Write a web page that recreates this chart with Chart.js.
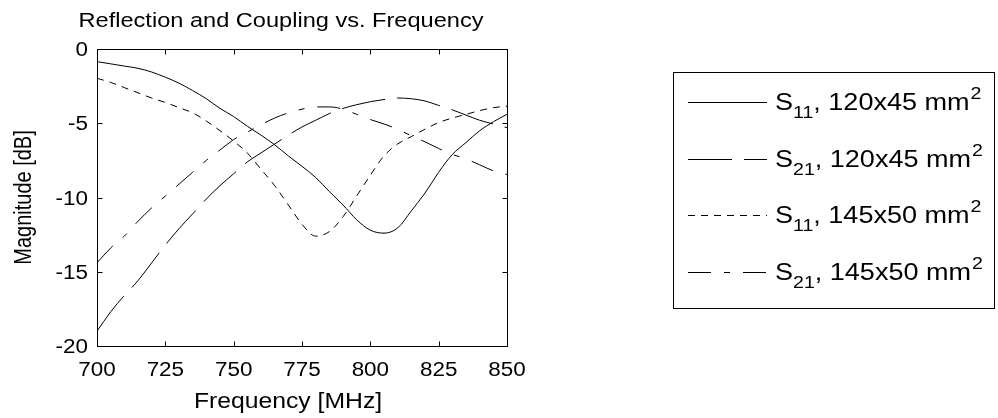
<!DOCTYPE html>
<html>
<head>
<meta charset="utf-8">
<script src="https://cdn.jsdelivr.net/npm/chart.js@4.4.1/dist/chart.umd.min.js"></script>
<style>
  html, body { margin: 0; padding: 0; background: #fff; }
  #wrap { width: 998px; height: 418px; }
</style>
</head>
<body>
<div id="wrap"><canvas id="sparamChart" width="998" height="418"></canvas></div>
<script>
// frequency grid [MHz]
var freqs = [700, 705, 710, 715, 720, 725, 730, 735, 740, 745, 750, 755, 760, 765, 770, 775,
             780, 785, 790, 795, 800, 805, 810, 815, 820, 825, 830, 835, 840, 845, 850]

// magnitudes [dB]
var s11Small = [-0.85, -1.0, -1.15, -1.3, -1.55, -1.9, -2.3, -2.8, -3.35, -4.0, -4.55, -5.2, -5.8, -6.45, -7.2, -7.9,
                -8.65, -9.6, -10.5, -11.5, -12.2, -12.4, -12.05, -10.9, -9.7, -8.3, -7.1, -6.3, -5.5, -4.9, -4.4]
var s21Small = [-19.0, -17.7, -16.6, -15.6, -14.4, -13.2, -12.1, -11.1, -10.1, -9.2, -8.4, -7.6, -7.0, -6.4, -5.8, -5.25,
                -4.8, -4.35, -4.0, -3.75, -3.55, -3.4, -3.3, -3.35, -3.5, -3.8, -4.1, -4.45, -4.8, -5.05, -5.3]
var s11Large = [-1.97, -2.25, -2.6, -2.95, -3.3, -3.6, -3.95, -4.3, -4.85, -5.5, -6.2, -7.0, -8.1, -9.2, -10.5, -11.8,
                -12.6, -12.3, -11.3, -9.9, -8.5, -7.2, -6.4, -5.9, -5.4, -4.95, -4.65, -4.4, -4.15, -3.95, -3.85]
var s21Large = [-14.4, -13.4, -12.6, -11.6, -10.7, -9.9, -9.1, -8.3, -7.5, -6.8, -6.1, -5.6, -5.1, -4.65, -4.3, -4.05,
                -3.9, -3.9, -4.05, -4.4, -4.75, -5.05, -5.4, -5.85, -6.25, -6.7, -7.1, -7.4, -7.8, -8.2, -8.45]

var seriesSub = ['11', '21', '11', '21']
var seriesSize = ['120x45', '120x45', '145x50', '145x50']
var seriesDash = [[], [44, 12], [7, 6], [23, 13, 6, 13]]
var seriesValues = [s11Small, s21Small, s11Large, s21Large]

var fontName = '"Liberation Sans", Arial, Helvetica, sans-serif'
var widen = 1.15 // the figure's text runs wide

function toPoints(values) {
  var pts = []
  for (var i = 0; i < freqs.length; i++) {
    pts.push({ x: freqs[i], y: values[i] })
  }
  return pts
}

var datasets = []
for (var i = 0; i < seriesValues.length; i++) {
  datasets.push({
    label: 'S' + seriesSub[i] + ', ' + seriesSize[i] + ' mm2',
    data: toPoints(seriesValues[i]),
    borderColor: '#000',
    borderWidth: 1,
    borderDash: seriesDash[i],
    pointRadius: 0,
    fill: false,
    cubicInterpolationMode: 'monotone'
  })
}

// draws text stretched horizontally, returns the advance
function wideText(ctx, text, x, y, align) {
  ctx.save()
  ctx.translate(x, y)
  ctx.scale(widen, 1)
  ctx.textAlign = align || 'left'
  ctx.fillText(text, 0, 0)
  ctx.restore()
  return ctx.measureText(text).width * widen
}

// box, inward ticks, labels, titles and the boxed legend
var matlabDecor = {
  id: 'matlabDecor',
  afterDraw: function(chart) {
    var ctx = chart.ctx
    var area = chart.chartArea
    var xs = chart.scales.x
    var ys = chart.scales.y
    ctx.save()
    ctx.strokeStyle = '#000'
    ctx.fillStyle = '#000'
    ctx.lineWidth = 1
    ctx.setLineDash([])
    ctx.textBaseline = 'alphabetic'

    var l = Math.round(area.left) + 0.5
    var r = Math.round(area.right) + 0.5
    var t = Math.round(area.top) + 0.5
    var b = Math.round(area.bottom) + 0.5
    ctx.strokeRect(l, t, r - l, b - t)

    var tick = 5
    ctx.beginPath()
    xs.ticks.forEach(function(tk) {
      var px = Math.round(xs.getPixelForValue(tk.value)) + 0.5
      ctx.moveTo(px, b); ctx.lineTo(px, b - tick)
      ctx.moveTo(px, t); ctx.lineTo(px, t + tick)
    })
    ys.ticks.forEach(function(tk) {
      var py = Math.round(ys.getPixelForValue(tk.value)) + 0.5
      ctx.moveTo(l, py); ctx.lineTo(l + tick, py)
      ctx.moveTo(r, py); ctx.lineTo(r - tick, py)
    })
    ctx.stroke()

    // tick labels
    ctx.font = '19.5px ' + fontName
    xs.ticks.forEach(function(tk) {
      wideText(ctx, String(tk.value), xs.getPixelForValue(tk.value), 376, 'center')
    })
    ys.ticks.forEach(function(tk) {
      wideText(ctx, String(tk.value), 88, ys.getPixelForValue(tk.value) + 7, 'right')
    })

    // titles
    ctx.font = '20.5px ' + fontName
    wideText(ctx, 'Reflection and Coupling vs. Frequency', 281, 27, 'center')
    ctx.font = '21.5px ' + fontName
    wideText(ctx, 'Frequency [MHz]', 288, 408, 'center')
    // rotated label: the stretch goes across the glyphs, not along the line
    ctx.save()
    ctx.font = '20px ' + fontName
    ctx.translate(31, (area.top + area.bottom) / 2)
    ctx.rotate(-Math.PI / 2)
    ctx.scale(1, widen)
    ctx.textAlign = 'center'
    ctx.fillText('Magnitude [dB]', 0, 0)
    ctx.restore()

    // legend
    ctx.strokeRect(673.5, 72.5, 321, 236)
    for (var i = 0; i < seriesSub.length; i++) {
      var base = 110 + i * 56.7
      var ly = Math.round(base - 8) + 0.5
      ctx.setLineDash(seriesDash[i])
      ctx.beginPath()
      ctx.moveTo(688, ly)
      ctx.lineTo(767, ly)
      ctx.stroke()
      ctx.setLineDash([])

      var x = 775
      ctx.font = '23.5px ' + fontName
      x += wideText(ctx, 'S', x, base)
      ctx.font = '17px ' + fontName
      x += wideText(ctx, seriesSub[i], x, base + 8)
      ctx.font = '23.5px ' + fontName
      x += wideText(ctx, ', ' + seriesSize[i] + ' mm', x, base)
      ctx.font = '17px ' + fontName
      wideText(ctx, '2', x + 1, base - 11)
    }
    ctx.restore()
  }
}

var ctx = document.getElementById('sparamChart').getContext('2d')
var sparamChart = new Chart(ctx, {
  type: 'line',
  data: { datasets: datasets },
  plugins: [matlabDecor],
  options: {
    responsive: false,
    animation: false,
    devicePixelRatio: 1,
    layout: {
      padding: { left: 0, right: 491, top: 49, bottom: 0 }
    },
    plugins: {
      legend: { display: false },
      title: { display: false },
      tooltip: { enabled: false }
    },
    scales: {
      x: {
        type: 'linear',
        min: 700,
        max: 850,
        afterFit: function(scale) { scale.height = 72 },
        grid: { display: false, drawTicks: false },
        border: { display: false },
        ticks: { stepSize: 25, display: false }
      },
      y: {
        min: -20,
        max: 0,
        afterFit: function(scale) { scale.width = 97 },
        grid: { display: false, drawTicks: false },
        border: { display: false },
        ticks: { stepSize: 5, display: false }
      }
    }
  }
})
</script>
</body>
</html>
